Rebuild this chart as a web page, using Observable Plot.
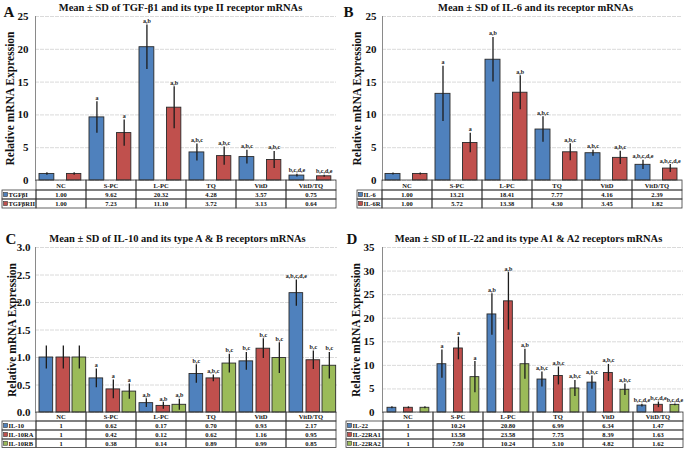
<!DOCTYPE html>
<html><head><meta charset="utf-8">
<script src="https://cdn.jsdelivr.net/npm/d3@7"></script>
<script src="https://cdn.jsdelivr.net/npm/@observablehq/plot@0.6"></script>
<style>
html,body{margin:0;padding:0;background:#fff;}
body{width:685px;height:449px;overflow:hidden;position:relative;font-family:"Liberation Serif",serif;}
.panel{position:absolute;}
</style></head><body>
<script>
const categories = ["NC","S-PC","L-PC","TQ","VitD","VitD/TQ"];
const seriesColors = ["#4F81BD","#C0504D","#9BBB59"];

// Panel A
const titleA = "Mean ± SD of TGF-β1 and its type II receptor mRNAs";
const namesA = ["TGFβI","TGFβRII"];
const tgfb1Mean = [1.00,9.62,20.32,4.28,3.57,0.75];
const tgfb1SD   = [0.2,2.4,3.4,1.3,1.05,0.2];
const tgfb1Sig  = ["","a","a,b","a,b,c","a,b,c","b,c,d,e"];
const tgfbr2Mean = [1.00,7.23,11.10,3.72,3.13,0.64];
const tgfbr2SD   = [0.2,2.0,3.2,1.4,1.3,0.15];
const tgfbr2Sig  = ["","a","a,b","a,b,c","a,b,c","b,c,d,e"];
const ticksA = [0,5,10,15,20,25];

// Panel B
const titleB = "Mean ± SD of IL-6 and its receptor mRNAs";
const namesB = ["IL-6","IL-6R"];
const il6Mean = [1.00,13.21,18.41,7.77,4.16,2.39];
const il6SD   = [0.15,4.2,3.4,1.95,0.45,0.7];
const il6Sig  = ["","a","a,b","a,b,c","a,b,c","a,b,c,d,e"];
const il6rMean = [1.00,5.72,13.38,4.30,3.45,1.82];
const il6rSD   = [0.15,1.5,2.6,1.3,1.0,0.6];
const il6rSig  = ["","a","a,b","a,b,c","a,b,c","a,b,c,d,e"];
const ticksB = [0,5,10,15,20,25];

// Panel C
const titleC = "Mean ± SD of IL-10 and its type A & B receptors mRNAs";
const namesC = ["IL-10","IL-10RA","IL-10RB"];
const il10Mean = [1,0.62,0.17,0.70,0.93,2.17];
const il10SD   = [0.21,0.17,0.08,0.17,0.16,0.24];
const il10Sig  = ["","a","a,b","b,c","b,c","a,b,c,d,e"];
const il10raMean = [1,0.42,0.12,0.62,1.16,0.95];
const il10raSD   = [0.21,0.17,0.06,0.06,0.18,0.17];
const il10raSig  = ["","a","a,b","a,b,c","b,c","b,c"];
const il10rbMean = [1,0.38,0.14,0.89,0.99,0.85];
const il10rbSD   = [0.21,0.14,0.1,0.17,0.28,0.24];
const il10rbSig  = ["","a","a,b","b,c","b,c","b,c"];
const ticksC = [0,0.5,1,1.5,2,2.5,3];

// Panel D
const titleD = "Mean ± SD of IL-22 and its type A1 & A2 receptors mRNAs";
const namesD = ["IL-22","IL-22RA1","IL-22RA2"];
const il22Mean = [1,10.24,20.80,6.99,6.34,1.47];
const il22SD   = [0.2,3.0,4.4,1.6,1.4,0.3];
const il22Sig  = ["","a","a,b","a,b,c","a,b,c","b,c,d,e"];
const il22ra1Mean = [1,13.58,23.58,7.75,8.39,1.63];
const il22ra1SD   = [0.2,2.4,6.1,1.9,1.8,0.6];
const il22ra1Sig  = ["","a","a,b","a,b,c","a,b,c","b,c,d,e"];
const il22ra2Mean = [1,7.50,10.24,5.10,4.82,1.62];
const il22ra2SD   = [0.2,3.3,3.2,1.7,1.2,0.2];
const il22ra2Sig  = ["","a","a,b","a,b,c","a,b,c","b,c,d,e"];
const ticksD = [0,5,10,15,20,25,30,35];

const fmt2 = d3.format(".2f");
const fmtCD = v => v === 1 ? "1" : d3.format(".2f")(v);

const panels = [
  {letter:"A", title:titleA, left:0, top:0, width:340, height:225, ml:35, mr:4, mt:16, mb:45,
   ticks:ticksA, tickPad:7, labelX:10, titleX:180, titleY:7.5, letterX:3, letterY:11.5, legendLeft:2,
   rowH:[10,9,9], fmt:fmt2,
   offsets:[[3,15],[30.5,14.5]],
   series:[{name:namesA[0],mean:tgfb1Mean,sd:tgfb1SD,sig:tgfb1Sig},{name:namesA[1],mean:tgfbr2Mean,sd:tgfbr2SD,sig:tgfbr2Sig}]},
  {letter:"B", title:titleB, left:340, top:0, width:345, height:225, ml:42, mr:3, mt:16, mb:45,
   ticks:ticksB, tickPad:6, labelX:357, titleX:535, titleY:7.5, letterX:343, letterY:12, legendLeft:357,
   rowH:[10,9,9], fmt:fmt2,
   offsets:[[3,15],[30.5,14.5]],
   series:[{name:namesB[0],mean:il6Mean,sd:il6SD,sig:il6Sig},{name:namesB[1],mean:il6rMean,sd:il6rSD,sig:il6rSig}]},
  {letter:"C", title:titleC, left:0, top:225, width:340, height:224, ml:35, mr:3, mt:22, mb:37,
   ticks:ticksC, tickPad:5, labelX:12, titleX:177, titleY:238, letterX:5, letterY:239, legendLeft:2,
   rowH:[9,9,9,8.5], fmt:fmtCD,
   offsets:[[3,14],[20,14],[36,14]],
   series:[{name:namesC[0],mean:il10Mean,sd:il10SD,sig:il10Sig},{name:namesC[1],mean:il10raMean,sd:il10raSD,sig:il10raSig},{name:namesC[2],mean:il10rbMean,sd:il10rbSD,sig:il10rbSig}]},
  {letter:"D", title:titleD, left:340, top:225, width:345, height:224, ml:42, mr:2, mt:22, mb:37,
   ticks:ticksD, tickPad:8, labelX:356, titleX:528, titleY:238, letterX:346, letterY:238.5, legendLeft:346,
   rowH:[9,9,9,8.5], fmt:fmtCD,
   offsets:[[4,9],[20.5,9],[37,9]],
   series:[{name:namesD[0],mean:il22Mean,sd:il22SD,sig:il22Sig},{name:namesD[1],mean:il22ra1Mean,sd:il22ra1SD,sig:il22ra1Sig},{name:namesD[2],mean:il22ra2Mean,sd:il22ra2SD,sig:il22ra2Sig}]}
];

const FONT = "Liberation Serif, Times New Roman, serif";

function buildPanel(P) {
  const fw = P.width - P.ml - P.mr;
  const bw = fw / categories.length;
  const yMax = P.ticks[P.ticks.length - 1];
  const marks = [
    Plot.gridY(P.ticks, {stroke:"#d6d6d6", strokeOpacity:1, strokeDasharray:"4,1", strokeWidth:0.9}),
    Plot.frame({anchor:"left", stroke:"#8a8a8a", strokeWidth:1})
  ];
  P.series.forEach((s, si) => {
    const data = categories.map((c, ci) => ({cat:c, v:s.mean[ci], sd:s.sd[ci], sig:s.sig[ci]}));
    const [off, w] = P.offsets[si];
    const dx = off + w / 2 - bw / 2;
    marks.push(
      Plot.barY(data, {x:"cat", y:"v", fill:seriesColors[si], stroke:"#2a2a2a", strokeWidth:0.9,
        insetLeft:off, insetRight:bw - off - w}),
      Plot.ruleX(data, {x:"cat", y1:d => d.v - d.sd, y2:d => d.v + d.sd, dx, stroke:"#1c1c1c", strokeWidth:1.3}),
      Plot.text(data, {x:"cat", y:d => d.v + d.sd, text:"sig", dx, dy:-4, fontSize:6, fontWeight:"bold", fill:"#222", fontFamily:FONT})
    );
  });
  marks.push(
    Plot.axisY({ticks:P.ticks, tickSize:0, tickPadding:P.tickPad, fontSize:11, fontWeight:"bold", label:null, fill:"#111", fontFamily:FONT}),
    Plot.text(["Relative mRNA Expression"], {frameAnchor:"left", dx:P.labelX - P.left - P.ml, rotate:-90,
      textAnchor:"middle", lineAnchor:"middle",
      fontSize:11.5, fontWeight:"bold", fill:"#111", fontFamily:FONT}),
    Plot.text([P.title], {frameAnchor:"top-left", dx:P.titleX - P.left - P.ml, dy:P.titleY - P.top - P.mt,
      textAnchor:"middle", lineAnchor:"middle", fontSize:10.5, fontWeight:"bold", fill:"#111", fontFamily:FONT}),
    Plot.text([P.letter], {frameAnchor:"top-left", dx:P.letterX - P.left - P.ml, dy:P.letterY - P.top - P.mt,
      textAnchor:"start", lineAnchor:"middle", fontSize:15, fontWeight:"bold", fill:"#111", fontFamily:FONT})
  );
  const plot = Plot.plot({
    width:P.width, height:P.height,
    marginLeft:P.ml, marginRight:P.mr, marginTop:P.mt, marginBottom:P.mb,
    style:{fontFamily:FONT, background:"transparent", overflow:"visible"},
    x:{domain:categories, padding:0, axis:null},
    y:{domain:[0, yMax], axis:null},
    marks
  });
  drawTable(plot, P);
  const div = document.createElement("div");
  div.className = "panel";
  div.style.left = P.left + "px";
  div.style.top = P.top + "px";
  div.appendChild(plot);
  document.body.appendChild(div);
}

function drawTable(plot, P) {
  const xs = plot.scale("x"), ys = plot.scale("y");
  const bw = xs.bandwidth, y0 = ys.apply(0);
  const g = d3.select(plot).append("g")
    .attr("font-family", FONT).attr("font-weight", "bold").attr("font-size", 6.5).attr("fill", "#111");
  const rows = [{label:null, cells:categories}].concat(
    P.series.map((s, si) => ({label:s.name, color:seriesColors[si], cells:s.mean.map(P.fmt)})));
  let yTop = y0;
  const x0 = xs.apply(categories[0]);
  const lx = P.legendLeft - P.left;
  rows.forEach((r, ri) => {
    const h = P.rowH[ri];
    categories.forEach((c, ci) => {
      const x = xs.apply(c);
      g.append("rect").attr("x", x).attr("y", yTop).attr("width", bw).attr("height", h)
        .attr("fill", "none").attr("stroke", "#3a3a3a").attr("stroke-width", 0.8);
      g.append("text").attr("x", x + bw / 2).attr("y", yTop + h / 2)
        .attr("text-anchor", "middle").attr("dominant-baseline", "central").text(r.cells[ci]);
    });
    if (r.label) {
      g.append("rect").attr("x", lx).attr("y", yTop).attr("width", x0 - lx).attr("height", h)
        .attr("fill", "none").attr("stroke", "#3a3a3a").attr("stroke-width", 0.8);
      g.append("rect").attr("x", lx + 1.5).attr("y", yTop + h / 2 - 2).attr("width", 4).attr("height", 4)
        .attr("fill", r.color).attr("stroke", "#333").attr("stroke-width", 0.6);
      g.append("text").attr("x", lx + 6.5).attr("y", yTop + h / 2)
        .attr("text-anchor", "start").attr("dominant-baseline", "central").text(r.label);
    }
    yTop += h;
  });
}

panels.forEach(buildPanel);
</script>
</body></html>
